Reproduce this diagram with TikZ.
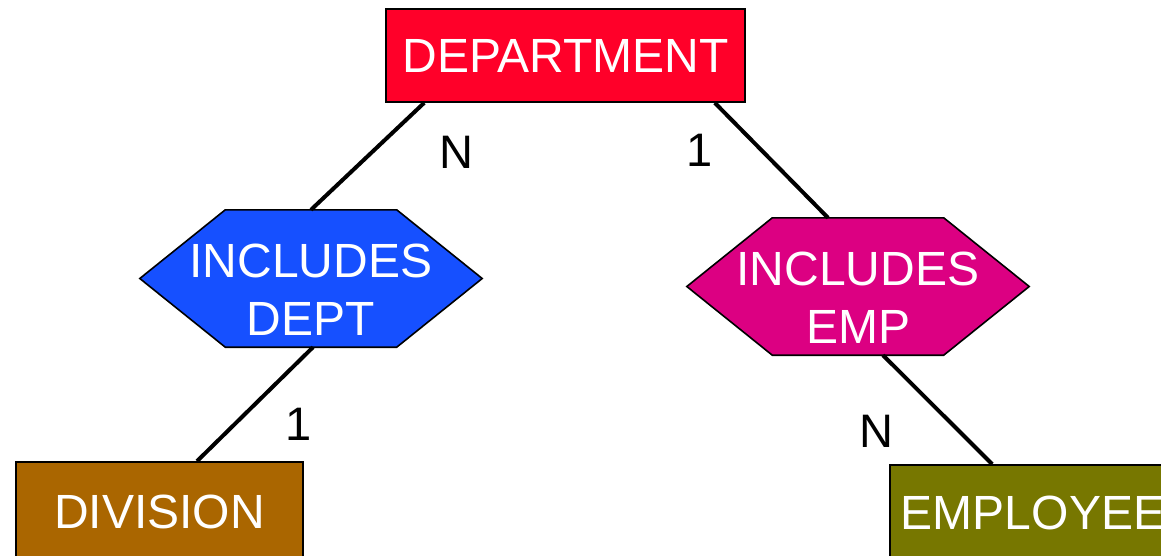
\documentclass[tikz,border=0pt]{standalone}
\usepackage{fontspec}
\setmainfont{Liberation Sans}
\definecolor{deptred}{RGB}{255,0,41}
\definecolor{incblue}{RGB}{22,80,255}
\definecolor{incmagenta}{RGB}{220,0,130}
\definecolor{divbrown}{RGB}{170,102,0}
\definecolor{empolive}{RGB}{119,119,0}
\begin{document}
\begin{tikzpicture}[x=1pt,y=-1pt,
  bigfont/.style={font=\fontsize{48}{58}\selectfont},
  entity/.style={bigfont, draw=black, line width=1.6pt, text=white, inner sep=0pt},
  hexframe/.style={inner sep=0pt, minimum width=342pt, minimum height=137pt},
  hexfill/.style={draw=black, line width=1.6pt},
  reltext/.style={bigfont, text=white, align=center, inner sep=0pt},
  link/.style={line width=4pt},
  card/.style={font=\fontsize{47}{56}\selectfont, anchor=base, inner sep=0pt}]
\useasboundingbox (0,0) rectangle (1161,556);
\clip (0,0) rectangle (1161,556);

% entities
\node[entity, fill=deptred, minimum width=359pt, minimum height=93pt] (dept) at (565.5,55.5) {DEPARTMENT};
\node[entity, fill=divbrown, minimum width=287pt, minimum height=100pt] (div) at (159.5,512) {DIVISION};
\node[entity, fill=empolive, minimum width=286pt, minimum height=96pt] (emp) at (1033,513) {EMPLOYEE};

% relationships (hexagons)
\node[hexframe] (hexL) at (311,278.5) {};
\filldraw[hexfill, fill=incblue] (hexL.west) -- ([xshift=85.5pt]hexL.north west) -- ([xshift=-85.5pt]hexL.north east)
  -- (hexL.east) -- ([xshift=-85.5pt]hexL.south east) -- ([xshift=85.5pt]hexL.south west) -- cycle;
\node[reltext] (hexLtext) at ([yshift=-11.5pt]hexL.center) {INCLUDES\\DEPT};

\node[hexframe] (hexR) at (858,286.5) {};
\filldraw[hexfill, fill=incmagenta] (hexR.west) -- ([xshift=85.5pt]hexR.north west) -- ([xshift=-85.5pt]hexR.north east)
  -- (hexR.east) -- ([xshift=-85.5pt]hexR.south east) -- ([xshift=85.5pt]hexR.south west) -- cycle;
\node[reltext] (hexRtext) at ([yshift=-11pt]hexR.center) {INCLUDES\\EMP};

% connectors
\draw[link] ([xshift=39pt]dept.south west) -- (hexL.north);
\draw[link] ([xshift=-31pt]dept.south east) -- ([xshift=-30pt]hexR.north);
\draw[link] ([xshift=2pt]hexL.south) -- ([xshift=37.5pt]div.north);
\draw[link] ([xshift=25pt]hexR.south) -- ([xshift=103pt]emp.north west);

% cardinalities
\node[card] (cardA) at (456,168) {N};
\node[card] (cardB) at (700,167) {1};
\node[card] (cardC) at (299,440) {1};
\node[card] (cardD) at (876,447) {N};
\end{tikzpicture}
\end{document}
